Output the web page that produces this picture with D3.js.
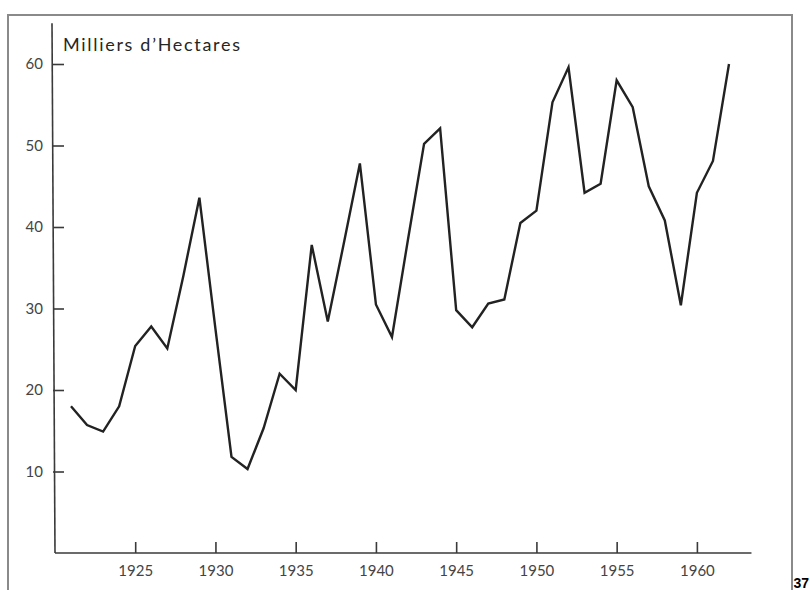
<html>
<style>
    body {
        margin: 0;
        background: #fff;
    }
    .axis path {
        display: none;
    }
    .axis line,
    .frame-line {
        stroke: #3a3a3a;
        stroke-width: 1.6;
    }
    .axis text {
        font: 15px Lato, sans-serif;
        fill: #444;
    }
</style>
<svg width="810" height="590"></svg>
<script src="https://d3js.org/d3.v7.min.js"></script>
<script>
    // superficie en milliers d'hectares, une valeur par an
    var years = d3.range(1921, 1963);
    var values = [18, 15.7, 14.9, 18, 25.4, 27.8, 25.1, 34, 43.6, 27.5, 11.8, 10.3, 15.3, 22, 20, 37.8,
        28.4, 38, 47.8, 30.5, 26.5, 38.5, 50.2, 52.1, 29.8, 27.7, 30.6, 31.1, 40.5, 42, 55.3, 59.6,
        44.2, 45.3, 58, 54.7, 45, 40.8, 30.4, 44.2, 48.1, 60];
    var yTicks = [10, 20, 30, 40, 50, 60];
    var xTicks = [1925, 1930, 1935, 1940, 1945, 1950, 1955, 1960];
    var yTitle = "Milliers d\u2019Hectares";
    var pageNumber = "37";

    var svg = d3.select("svg");

    var x = d3.scaleLinear().domain([1921, 1962]).range([71, 729]);
    var y = d3.scaleLinear().domain([0, 60]).range([553, 64]);

    // cadre gris de la page scannée
    svg.append("path")
        .attr("d", "M8,600 V15 H792 V590")
        .attr("fill", "none")
        .attr("stroke", "#8a8a8a")
        .attr("stroke-width", 2);

    // axes
    svg.append("line").attr("class", "frame-line")
        .attr("x1", 52).attr("x2", 55)
        .attr("y1", y(65)).attr("y2", y(0));
    svg.append("line").attr("class", "frame-line")
        .attr("x1", 55).attr("x2", x(1963.4))
        .attr("y1", y(0)).attr("y2", y(0));

    svg.append("g")
        .attr("class", "axis")
        .attr("transform", "translate(53,0)")
        .call(d3.axisLeft(y).tickValues(yTicks).tickSizeInner(-11).tickSizeOuter(0).tickPadding(10));

    svg.append("g")
        .attr("class", "axis")
        .attr("transform", "translate(0," + y(0) + ")")
        .call(d3.axisBottom(x).tickValues(xTicks).tickFormat(d3.format("d"))
            .tickSizeInner(-11).tickSizeOuter(0).tickPadding(12));

    svg.append("text")
        .attr("x", 63)
        .attr("y", 51)
        .attr("textLength", 177)
        .attr("lengthAdjust", "spacing")
        .style("font", "18px Lato, sans-serif")
        .attr("fill", "#262626")
        .text(yTitle);

    var line = d3.line()
        .x((d, i) => x(years[i]))
        .y(d => y(d));

    svg.append("path")
        .datum(values)
        .attr("d", line)
        .attr("fill", "none")
        .attr("stroke", "#222")
        .attr("stroke-width", 2.4)
        .attr("stroke-linejoin", "miter");

    svg.append("text")
        .attr("x", 809)
        .attr("y", 588)
        .attr("text-anchor", "end")
        .style("font", "bold 14px 'Liberation Sans', Arial, sans-serif")
        .attr("fill", "#000")
        .text(pageNumber);
</script>
</html>
